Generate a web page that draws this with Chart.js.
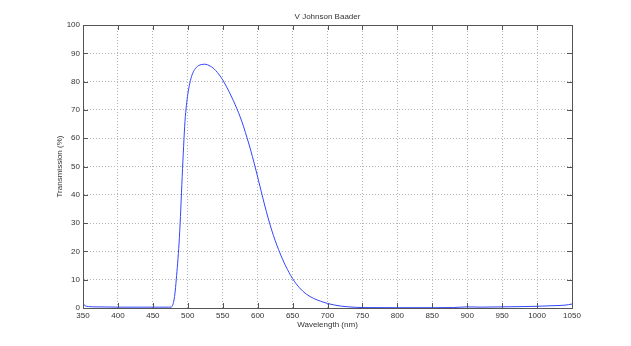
<!DOCTYPE html>
<html>
<head>
<meta charset="utf-8">
<script src="https://cdn.jsdelivr.net/npm/chart.js@4"></script>
<style>
  html, body { margin: 0; padding: 0; background: #fff; }
  #wrap { width: 631px; height: 346px; position: relative; }
</style>
</head>
<body>
<div id="wrap"><canvas id="filterChart"></canvas></div>
<script>
// Values (wavelength in nm, transmission in %)
const wavelengths = [350, 353, 358, 370, 400, 430, 460, 472, 476, 478, 480, 482, 484, 486, 488, 490,
  492, 494, 496, 498, 500, 503, 506, 510, 515, 520, 524, 528, 532, 536, 540, 545, 550, 555, 560, 565, 570,
  575, 580, 585, 590, 595, 600, 605, 610, 615, 620, 625, 630, 635, 640, 645, 650, 655, 660, 665, 670,
  675, 680, 690, 700, 710, 720, 730, 740, 750, 800, 850, 880, 900, 920, 950, 980, 1000, 1020, 1040, 1050];
const transmission = [1.5, 0.8, 0.5, 0.4, 0.3, 0.3, 0.3, 0.3, 0.3, 0.8, 2.5, 6, 11.5, 17.5, 25, 35,
  46.5, 57, 66, 71.5, 75.5, 79.5, 82.3, 84.3, 85.6, 86.05, 86.15, 85.95, 85.5, 84.85, 83.9, 82.4, 80.6, 78.4, 76.0, 73.4, 70.6,
  67.5, 64.0, 60.0, 55.8, 51.2, 46.3, 41.3, 36.4, 31.8, 27.6, 23.9, 20.6, 17.6, 14.9, 12.5, 10.4, 8.6, 7.1, 5.85, 4.85,
  4.05, 3.4, 2.4, 1.6, 1.05, 0.65, 0.4, 0.25, 0.15, 0.1, 0.1, 0.15, 0.4, 0.3, 0.4, 0.5, 0.6, 0.8, 1.0, 1.4];
const xTicks = [350, 400, 450, 500, 550, 600, 650, 700, 750, 800, 850, 900, 950, 1000, 1050];
const yTicks = [0, 10, 20, 30, 40, 50, 60, 70, 80, 90, 100];

const chartTitle = 'V Johnson Baader';
const FONT = "'Liberation Sans', Arial, sans-serif";

// box around the plot with inward ticks on all four sides, plus the title
const matlabBox = {
  id: 'matlabBox',
  afterDraw(chart) {
    const { ctx, chartArea: a, scales } = chart;
    ctx.save();
    ctx.strokeStyle = '#555';
    ctx.lineWidth = 1;
    ctx.strokeRect(Math.round(a.left) + 0.5, Math.round(a.top) + 0.5,
      Math.round(a.right - a.left), Math.round(a.bottom - a.top));
    ctx.beginPath();
    const tl = 5;
    xTicks.forEach(v => {
      const px = Math.round(scales.x.getPixelForValue(v)) + 0.5;
      ctx.moveTo(px, a.bottom); ctx.lineTo(px, a.bottom - tl);
      ctx.moveTo(px, a.top); ctx.lineTo(px, a.top + tl);
    });
    yTicks.forEach(v => {
      const py = Math.round(scales.y.getPixelForValue(v)) + 0.5;
      ctx.moveTo(a.left, py); ctx.lineTo(a.left + tl, py);
      ctx.moveTo(a.right, py); ctx.lineTo(a.right - tl, py);
    });
    ctx.stroke();
    ctx.fillStyle = '#333';
    ctx.font = '8px ' + FONT;
    ctx.textAlign = 'center';
    ctx.textBaseline = 'middle';
    ctx.fillText(chartTitle, (a.left + a.right) / 2, 17);
    ctx.restore();
  }
};

const ctx = document.getElementById('filterChart');
new Chart(ctx, {
  type: 'line',
  data: {
    datasets: [{
      label: 'V Johnson Baader',
      data: wavelengths.map((w, i) => ({ x: w, y: transmission[i] })),
      borderColor: 'rgb(50, 70, 255)',
      borderWidth: 1,
      pointRadius: 0,
      cubicInterpolationMode: 'monotone',
      fill: false
    }]
  },
  options: {
    responsive: true,
    maintainAspectRatio: false,
    animation: false,
    layout: { padding: { left: 0, right: 59, top: 25, bottom: 0 } },
    plugins: {
      legend: { display: false },
      title: { display: false },
      tooltip: { enabled: false }
    },
    scales: {
      x: {
        type: 'linear',
        min: 350, max: 1050,
        afterBuildTicks: s => { s.ticks = xTicks.map(v => ({ value: v })); },
        afterFit: s => { s.height = 38; },
        ticks: { color: '#333', font: { family: FONT, size: 8 }, padding: 3, maxRotation: 0, callback: v => String(v) },
        grid: { color: '#b4b4b4', drawTicks: false, lineWidth: 1 },
        border: { display: true, color: '#555', dash: [1, 2] },
        title: { display: true, text: 'Wavelength (nm)', color: '#333', font: { family: FONT, size: 8 }, padding: { top: 0, bottom: 16 } }
      },
      y: {
        min: 0, max: 100,
        afterBuildTicks: s => { s.ticks = yTicks.map(v => ({ value: v })); },
        afterFit: s => { s.width = 83; },
        ticks: { color: '#333', font: { family: FONT, size: 8 }, padding: 3, callback: v => String(v) },
        grid: { color: '#b4b4b4', drawTicks: false, lineWidth: 1 },
        border: { display: true, color: '#555', dash: [1, 2] },
        title: { display: true, text: 'Transmission (%)', color: '#333', font: { family: FONT, size: 8 }, padding: { top: 55, bottom: 0 } }
      }
    }
  },
  plugins: [matlabBox]
});
</script>
</body>
</html>
